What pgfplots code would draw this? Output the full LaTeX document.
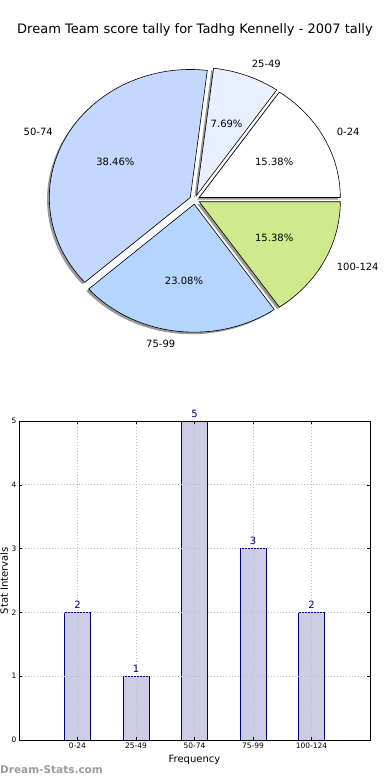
\documentclass[border=0pt]{standalone}
\usepackage{pgfplots}
\usepackage{pgfplotstable}
\pgfplotsset{compat=1.18}
\usepackage{fontspec}
\setmainfont{DejaVu Sans}
\pgfkeys{/pgf/number format/assume math mode=true}

\definecolor{cA}{RGB}{255,255,255}
\definecolor{cB}{RGB}{232,240,255}
\definecolor{cC}{RGB}{196,216,255}
\definecolor{cD}{RGB}{180,213,255}
\definecolor{cE}{RGB}{207,234,140}
\definecolor{navyc}{RGB}{0,0,128}
\definecolor{barfill}{RGB}{204,204,228}
\definecolor{gridc}{RGB}{190,190,190}
\definecolor{wmark}{RGB}{155,155,155}

\pgfplotstableread{
x label count
1 0-24 2
2 25-49 1
3 50-74 5
4 75-99 3
5 100-124 2
}\tally

\newcommand\labelfont{\fontsize{10}{12}\selectfont}

\newcommand\pieshadow[2]{%
 \pgfmathsetmacro\pmid{(#1+#2)/2}%
 \pgfmathsetmacro\ox{\D*cos(\pmid)-0.016}%
 \pgfmathsetmacro\oy{\D*sin(\pmid)-0.016}%
 \edef\temp{\noexpand\addplot[draw=none, fill=black!40, domain=#1:#2, samples=60, variable=\noexpand\t] ({\ox+cos(\noexpand\t)}, {\oy+sin(\noexpand\t)}) -- (axis cs:\ox,\oy) -- cycle;}%
 \temp}

\newcommand\pieslice[3]{%
 \pgfmathsetmacro\pmid{(#1+#2)/2}%
 \pgfmathsetmacro\ox{\D*cos(\pmid)}%
 \pgfmathsetmacro\oy{\D*sin(\pmid)}%
 \edef\temp{\noexpand\addplot[draw=black, line width=0.6pt, fill=#3, domain=#1:#2, samples=60, variable=\noexpand\t] ({\ox+cos(\noexpand\t)}, {\oy+sin(\noexpand\t)}) -- (axis cs:\ox,\oy) -- cycle;}%
 \temp}

\newcommand\pielabel[5]{%
 \pgfmathsetmacro\pmid{(#1+#2)/2}%
 \pgfmathsetmacro\ox{\D*cos(\pmid)}%
 \pgfmathsetmacro\oy{\D*sin(\pmid)}%
 \pgfmathsetmacro\lx{\ox+1.1*cos(\pmid)}%
 \pgfmathsetmacro\ly{\oy+1.1*sin(\pmid)}%
 \pgfmathsetmacro\px{\ox+0.6*cos(\pmid)}%
 \pgfmathsetmacro\py{\oy+0.6*sin(\pmid)}%
 \pgfmathsetmacro\pc{100*#5/\T}%
 \edef\temp{\noexpand\node[anchor=#4, font=\noexpand\labelfont, inner sep=0pt] at (axis cs:\lx,\ly) {#3};
  \noexpand\node[font=\noexpand\labelfont, inner sep=0pt] at (axis cs:\px,\py) {\noexpand\pgfmathprintnumber[fixed,precision=2,fixed zerofill]{\pc}\noexpand\%};}%
 \temp}

\begin{document}
\begin{tikzpicture}
\pgfplotstablegetelem{0}{count}\of\tally\edef\nA{\pgfplotsretval}
\pgfplotstablegetelem{1}{count}\of\tally\edef\nB{\pgfplotsretval}
\pgfplotstablegetelem{2}{count}\of\tally\edef\nC{\pgfplotsretval}
\pgfplotstablegetelem{3}{count}\of\tally\edef\nD{\pgfplotsretval}
\pgfplotstablegetelem{4}{count}\of\tally\edef\nE{\pgfplotsretval}
\pgfmathsetmacro\T{\nA+\nB+\nC+\nD+\nE}
\pgfmathsetmacro\aA{0}
\pgfmathsetmacro\aB{\aA+360*\nA/\T}
\pgfmathsetmacro\aC{\aB+360*\nB/\T}
\pgfmathsetmacro\aD{\aC+360*\nC/\T}
\pgfmathsetmacro\aE{\aD+360*\nD/\T}
\pgfmathsetmacro\aF{360}
\def\D{0.036}

% title
\node[font=\fontsize{13}{15}\selectfont] at (195pt,-30pt) {Dream Team score tally for Tadhg Kennelly - 2007 tally};

% pie
\begin{axis}[
  at={(11.5pt,-366pt)}, anchor=south west,
  x=141pt, y=128pt,
  xmin=-1.3, xmax=1.3, ymin=-1.3, ymax=1.3,
  hide axis, clip=false,
]
\pieshadow{\aA}{\aB}
\pieshadow{\aB}{\aC}
\pieshadow{\aC}{\aD}
\pieshadow{\aD}{\aE}
\pieshadow{\aE}{\aF}
\pieslice{\aA}{\aB}{cA}
\pieslice{\aB}{\aC}{cB}
\pieslice{\aC}{\aD}{cC}
\pieslice{\aD}{\aE}{cD}
\pieslice{\aE}{\aF}{cE}
\pielabel{\aA}{\aB}{0-24}{west}{\nA}
\pielabel{\aB}{\aC}{25-49}{west}{\nB}
\pielabel{\aC}{\aD}{50-74}{east}{\nC}
\pielabel{\aD}{\aE}{75-99}{east}{\nD}
\pielabel{\aE}{\aF}{100-124}{west}{\nE}
\end{axis}

% bar chart
\begin{axis}[
  at={(19pt,-740pt)}, anchor=south west,
  scale only axis, width=351pt, height=319pt,
  xmin=0, xmax=6, ymin=0, ymax=5,
  xtick={1,2,3,4,5},
  xticklabels from table={\tally}{label},
  ytick={0,1,2,3,4,5},
  tick align=inside,
  tick pos=both,
  xticklabel pos=lower, yticklabel pos=left,
  major tick length=3pt,
  tick style={black, line width=0.5pt},
  tick label style={font=\fontsize{7.5}{9}\selectfont},
  yticklabel style={xshift=1pt},
  xticklabel style={yshift=1pt},
  grid=major,
  grid style={gridc, line width=0.8pt, dash pattern=on 1pt off 2pt},
  axis line style={black, line width=0.8pt},
  axis on top,
  xlabel={Frequency},
  ylabel={Stat Intervals},
  label style={font=\fontsize{10}{12}\selectfont},
  xlabel style={at={(axis description cs:0.5,0)}, anchor=center, yshift=-20pt},
  ylabel style={at={(axis description cs:-0.042,0.5)}, anchor=center},
  clip=false,
]
\addplot[ybar, bar width=26pt, fill=barfill, draw=navyc, line width=0.7pt,
  nodes near coords,
  nodes near coords style={font=\fontsize{10}{12}\selectfont, text=navyc, inner sep=0.5pt, anchor=south, yshift=3pt}]
  table[x=x, y=count] {\tally};
\end{axis}

\node[anchor=west, font=\fontsize{10.5}{12}\selectfont\bfseries, text=wmark, inner sep=0pt] at (0pt,-770pt) {Dream-Stats.com};

\pgfresetboundingbox
\useasboundingbox (0pt,0pt) rectangle (390pt,-780pt);
\end{tikzpicture}
\end{document}
